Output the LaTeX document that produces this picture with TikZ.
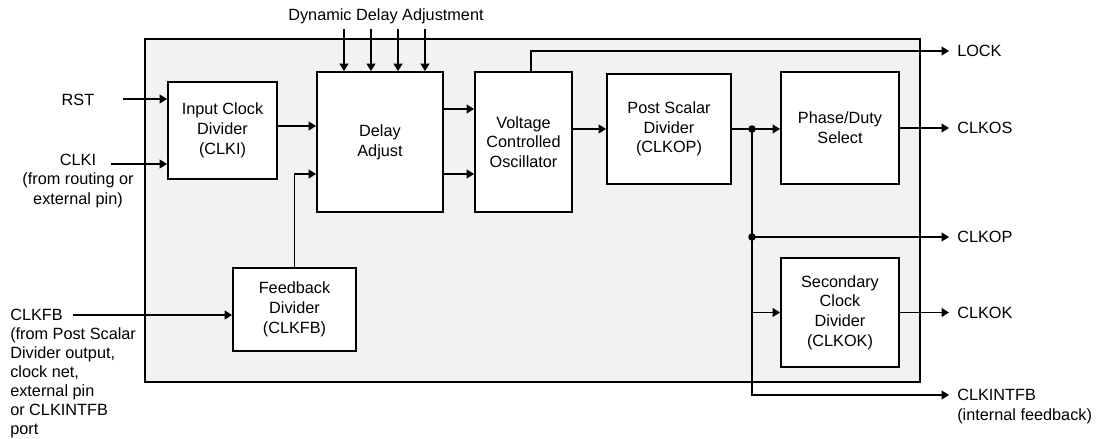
\documentclass[tikz,border=0pt]{standalone}
\usepackage{fontspec}
\setmainfont{Liberation Sans}
\usetikzlibrary{arrows.meta}
\begin{document}
\begin{tikzpicture}[x=0.75pt,y=-0.75pt,
  every node/.style={font=\fontsize{12.2}{14.8}\selectfont, inner sep=0pt},
  blk/.style={draw, fill=white, line width=1.4pt, align=center},
  sz/.style 2 args={minimum width=#1*0.75pt, minimum height=#2*0.75pt},
  ln/.style={line width=1.2pt},
  arr/.style={ln, -{Triangle[length=5.5pt,width=6.5pt]}},
  jdot/.style={circle, fill=black, minimum size=7.5*0.75pt, inner sep=0pt}]
\useasboundingbox (0,0) rectangle (1103,439);
% outer PLL block
\node[draw, fill=gray!10, line width=1.4pt, sz={775}{343}] (pll) at (532.5,210.5) {};
% blocks
\node[blk, sz={109}{97}] (icd) at (222.5,130.5) {Input Clock\\Divider\\(CLKI)};
\node[blk, sz={126}{140}] (da) at (380,142) {Delay\\Adjust};
\node[blk, sz={97}{140}] (vco) at (523.5,142) {Voltage\\Controlled\\Oscillator};
\node[blk, sz={124}{110}] (psd) at (669,129) {Post Scalar\\Divider\\(CLKOP)};
\node[blk, sz={118}{112}] (pds) at (840,128) {Phase/Duty\\Select};
\node[blk, sz={123}{83}] (fbd) at (294.5,309.5) {Feedback\\Divider\\(CLKFB)};
\node[blk, sz={118}{109}] (scd) at (840,312.5) {Secondary\\Clock\\Divider\\(CLKOK)};
% labels
\node[anchor=base] (dyn) at (386,20.7) {Dynamic Delay Adjustment};
\node[anchor=base] (rst) at (78,105.7) {RST};
\node[anchor=north, align=center] (clki) at (78,153.5) {CLKI\\(from routing or\\external pin)};
\node[anchor=north west, align=left, font=\fontsize{12.2}{14.2}\selectfont] (clkfb) at (10,309.3) {CLKFB\\(from Post Scalar\\Divider output,\\clock net,\\external pin\\or CLKINTFB\\port};
\node[anchor=base west] (lock) at (957,56.7) {LOCK};
\node[anchor=base west] (clkos) at (957,133.7) {CLKOS};
\node[anchor=base west] (clkop) at (957,242.7) {CLKOP};
\node[anchor=base west] (clkok) at (957,318.7) {CLKOK};
\node[anchor=north west, align=left] (intfb) at (957,389.3) {CLKINTFB\\(internal feedback)};
% junctions
\node[jdot] (j1) at (752,129) {};
\node[jdot] (j2) at (752,237) {};
% free ends
\coordinate (rstS) at (123,99);
\coordinate (clkiS) at (111,164);
\coordinate (fbS) at (73,315);
\coordinate (lockE) at (949,51);
\coordinate (osE) at (949,128);
\coordinate (opE) at (949,237);
\coordinate (okE) at (949,312.5);
\coordinate (intE) at (949,395);
% inputs
\draw[arr] (rstS) -- (icd.west |- rstS);
\draw[arr] (clkiS) -- (icd.west |- clkiS);
\draw[arr] (fbS) -- (fbd.west |- fbS);
\foreach \xx in {344,371,398,425}
  \draw[arr] (\xx,29) -- (da.north -| \xx,0);
% internal
\draw[arr] (icd.east |- 0,126) -- (da.west |- 0,126);
\draw[arr] (fbd.north) -- (fbd.north |- 0,174) -- (da.west |- 0,174);
\draw[arr] (da.east |- 0,109) -- (vco.west |- 0,109);
\draw[arr] (da.east |- 0,174) -- (vco.west |- 0,174);
\draw[arr] (vco.east |- psd.west) -- (psd.west);
\draw[ln] (psd.east) -- (j1.center);
\draw[arr] (j1.center) -- (pds.west |- j1.center);
\draw[arr] (j1 |- scd.west) -- (scd.west);
% outputs
\draw[arr] (vco.north -| 531,0) |- (lockE);
\draw[arr] (pds.east |- osE) -- (osE);
\draw[arr] (j2.center) -- (opE);
\draw[arr] (scd.east) -- (okE);
\draw[arr] (j1.center) |- (intE);
\end{tikzpicture}
\end{document}
